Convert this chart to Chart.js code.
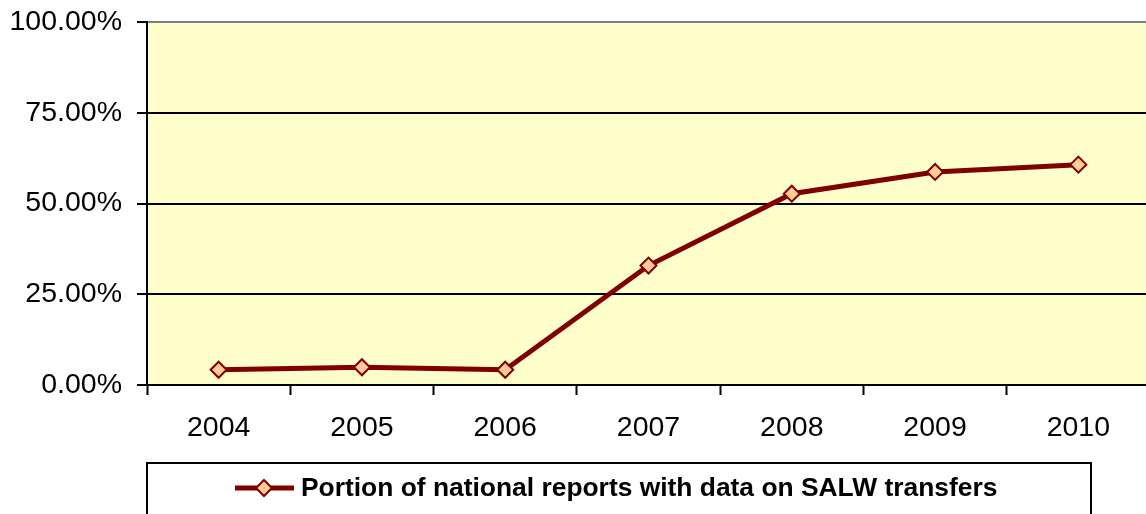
<!DOCTYPE html>
<html>
<head>
<meta charset="utf-8">
<script src="https://cdn.jsdelivr.net/npm/chart.js@4/dist/chart.umd.min.js"></script>
<style>
  html, body { margin: 0; padding: 0; background: #fff; overflow: hidden; }
  #wrap { width: 1160px; height: 514px; }
</style>
</head>
<body>
<div id="wrap"><canvas id="grafico" width="1160" height="514"></canvas></div>
<script>
var anios = ['2004', '2005', '2006', '2007', '2008', '2009', '2010'];
var porcion = [4.2, 4.9, 4.2, 32.9, 52.7, 58.7, 60.7];
var etiquetaSerie = 'Portion of national reports with data on SALW transfers';

var fondoPlot = {
  id: 'fondoPlot',
  beforeDraw: function (chart) {
    var a = chart.chartArea, c = chart.ctx;
    c.save();
    c.fillStyle = '#FFFFCC';
    c.fillRect(a.left, a.top, a.right - a.left, a.bottom - a.top);
    c.restore();
  }
};

// caja de leyenda como en el original
var leyendaCaja = {
  id: 'leyendaCaja',
  afterDraw: function (chart) {
    var c = chart.ctx;
    var ds = chart.data.datasets[0];
    var y = 488;
    c.save();
    c.strokeStyle = '#000';
    c.lineWidth = 2;
    c.strokeRect(147, 463, 944, 80);
    c.strokeStyle = ds.borderColor;
    c.lineWidth = 5;
    c.beginPath();
    c.moveTo(235, y);
    c.lineTo(294, y);
    c.stroke();
    c.beginPath();
    c.moveTo(264, y - 8);
    c.lineTo(272, y);
    c.lineTo(264, y + 8);
    c.lineTo(256, y);
    c.closePath();
    c.fillStyle = ds.pointBackgroundColor;
    c.fill();
    c.lineWidth = 2;
    c.stroke();
    c.fillStyle = '#000';
    c.font = 'bold 26.4px "Liberation Sans", Arial, sans-serif';
    c.textBaseline = 'middle';
    c.textAlign = 'left';
    c.fillText(ds.label, 301, y + 1);
    c.restore();
  }
};

var ctx = document.getElementById('grafico');
new Chart(ctx, {
  type: 'line',
  plugins: [fondoPlot, leyendaCaja],
  data: {
    labels: anios,
    datasets: [{
      label: etiquetaSerie,
      data: porcion,
      borderColor: '#800000',
      borderWidth: 5,
      pointStyle: 'rectRot',
      pointRadius: 8,
      pointBorderWidth: 2,
      pointBorderColor: '#800000',
      pointBackgroundColor: '#FFCC99',
      tension: 0,
      fill: false
    }]
  },
  options: {
    responsive: false,
    animation: false,
    layout: { padding: { left: 0, right: 6, top: 22, bottom: 0 } },
    plugins: {
      legend: { display: false },
      tooltip: { enabled: false }
    },
    scales: {
      x: {
        offset: true,
        afterFit: function (s) { s.height = 129; s.paddingLeft = 0; s.paddingRight = 0; },
        grid: {
          offset: true,
          drawOnChartArea: false,
          drawTicks: true,
          tickLength: 10,
          tickWidth: 2,
          tickColor: '#000'
        },
        border: { color: '#000', width: 2 },
        ticks: {
          color: '#000',
          padding: 16,
          maxRotation: 0,
          font: { family: '"Liberation Sans", Arial, sans-serif', size: 28.5 }
        }
      },
      y: {
        min: 0,
        max: 100,
        afterFit: function (s) { s.width = 147; s.paddingTop = 0; s.paddingBottom = 0; },
        grid: {
          color: function (c) { return c.tick && c.tick.value === 100 ? '#808080' : '#000'; },
          lineWidth: 2,
          tickLength: 10,
          tickColor: '#000',
          tickWidth: 2
        },
        border: { color: '#000', width: 2 },
        ticks: {
          stepSize: 25,
          color: '#000',
          padding: 15,
          font: { family: '"Liberation Sans", Arial, sans-serif', size: 28.5 },
          callback: function (v) { return v.toFixed(2) + '%'; }
        }
      }
    }
  }
});
</script>
</body>
</html>
